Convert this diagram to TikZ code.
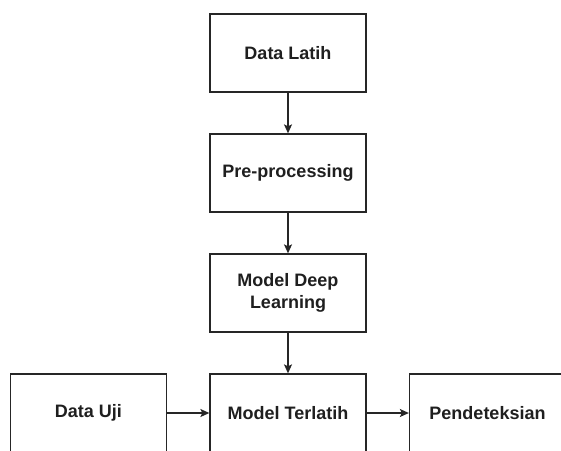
\documentclass[tikz,border=0pt]{standalone}
\usepackage{fontspec}
\setmainfont{Liberation Sans}
\usetikzlibrary{arrows.meta}
\begin{document}
\begin{tikzpicture}[x=1pt,y=-1pt,
  box/.style={draw=black!85, line width=1.3pt, minimum width=156pt, minimum height=78pt,
    inner sep=0pt, font=\fontsize{18}{22}\selectfont\bfseries, align=center, text=black!88},
  conn/.style={draw=black!85, line width=1.3pt, -{Stealth[length=9pt,width=8pt,inset=2pt]}}]
\useasboundingbox[fill=white] (0,0) rectangle (561,450);
\clip (0,0) rectangle (561,450);
\node[box] (latih) at (288,53) {Data Latih};
\node[box] (pre) at (288,173) {Pre-processing};
\node[box] (mdl) at (288,293) {Model Deep\\Learning};
\node[box] (terlatih) at (288,413) {Model Terlatih};
\node[box] (uji) at (88.5,413) {Data Uji};
\node[box] (deteksi) at (487.5,413) {Pendeteksian};
\draw[conn] (latih) -- (pre);
\draw[conn] (pre) -- (mdl);
\draw[conn] (mdl) -- (terlatih);
\draw[conn] (uji) -- (terlatih);
\draw[conn] (terlatih) -- (deteksi);
\end{tikzpicture}
\end{document}
